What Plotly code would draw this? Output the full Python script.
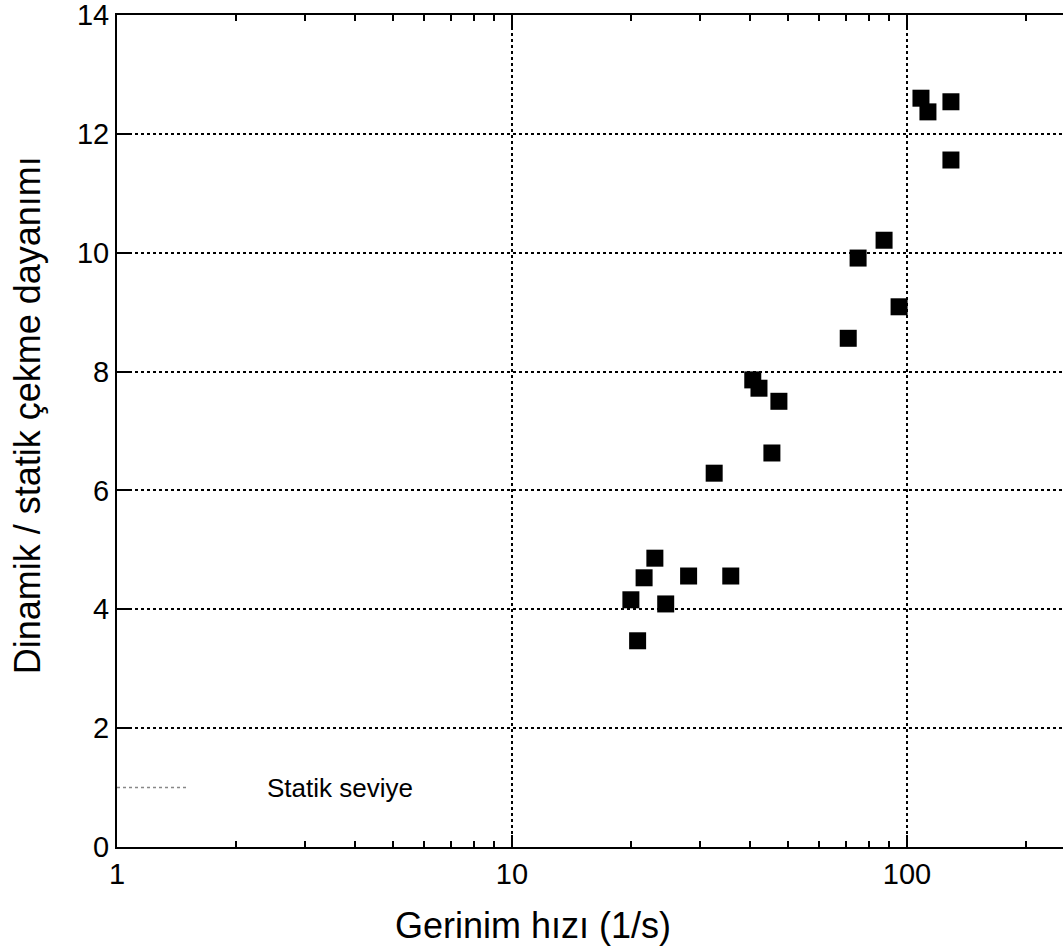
import plotly.graph_objects as go

strain_rate = [20.0, 20.8, 21.6, 23.0, 24.5, 28.0, 32.5, 35.8, 40.7, 42.2, 45.5, 47.4,
               71.0, 75.2, 87.5, 95.5, 108.5, 113.0, 129.2, 129.2]
dif_ratio = [4.16, 3.47, 4.53, 4.86, 4.09, 4.56, 6.29, 4.56, 7.86, 7.72, 6.63, 7.50,
             8.56, 9.91, 10.21, 9.09, 12.60, 12.37, 12.54, 11.56]

static_x = [1.0, 1.5]
static_y = [1.0, 1.0]
static_label = "Statik seviye"
x_title = "Gerinim hızı (1/s)"
y_title = "Dinamik / statik çekme dayanımı"

x_ticks = [1, 10, 100]
x_tick_labels = ["1", "10", "100"]
x_minor = [2, 3, 4, 5, 6, 7, 8, 9, 20, 30, 40, 50, 60, 70, 80, 90, 200]
y_ticks = [0, 2, 4, 6, 8, 10, 12, 14]

FONT = "Liberation Sans, Arial, sans-serif"

fig = go.Figure()
fig.add_trace(go.Scatter(x=static_x, y=static_y, mode="lines",
                         line=dict(color="#888888", width=1.5, dash="dot"),
                         showlegend=False, hoverinfo="skip"))
fig.add_trace(go.Scatter(x=strain_rate, y=dif_ratio, mode="markers",
                         marker=dict(symbol="square", size=17, color="black",
                                     line=dict(width=0)),
                         showlegend=False))

fig.add_annotation(x=0.375, y=1.0, xref="x", yref="y", text=static_label,
                   showarrow=False, xanchor="left", yanchor="middle",
                   font=dict(family=FONT, size=26, color="black"))

# axis titles (placed as in the reference, not centred on the plot area)
fig.add_annotation(x=0.4397, y=-0.094, xref="paper", yref="paper", text=x_title,
                   showarrow=False, xanchor="center", yanchor="middle",
                   font=dict(family=FONT, size=36, color="black"))
fig.add_annotation(x=-0.095, y=0.519, xref="paper", yref="paper", text=y_title,
                   showarrow=False, xanchor="center", yanchor="middle", textangle=-90,
                   font=dict(family=FONT, size=36, color="black"))

fig.update_xaxes(type="log", range=[0, 2.395], automargin=False,
                 tickvals=x_ticks, ticktext=x_tick_labels,
                 ticks="inside", ticklen=12, tickwidth=2, tickcolor="black",
                 minor=dict(tickvals=x_minor, ticks="inside", ticklen=6,
                            tickwidth=1.5, tickcolor="black", showgrid=False),
                 showline=True, linecolor="black", linewidth=2, mirror="ticks",
                 showgrid=True, gridcolor="black", gridwidth=2, griddash="dot",
                 zeroline=False, ticklabeloverflow="allow",
                 tickfont=dict(family=FONT, size=29, color="black"))
fig.update_yaxes(range=[0, 14], tickvals=y_ticks, automargin=False,
                 ticks="inside", ticklen=12, tickwidth=2, tickcolor="black",
                 showline=True, linecolor="black", linewidth=2, mirror=False,
                 showgrid=True, gridcolor="black", gridwidth=2, griddash="dot",
                 zeroline=False, ticklabeloverflow="allow",
                 tickfont=dict(family=FONT, size=29, color="black"))

fig.update_layout(width=1063, height=949,
                  margin=dict(l=117, r=0, t=15, b=102, autoexpand=False),
                  plot_bgcolor="white", paper_bgcolor="white")

fig.write_html("out.html", config={"displayModeBar": False},
               post_script="document.body.style.margin='0';")
